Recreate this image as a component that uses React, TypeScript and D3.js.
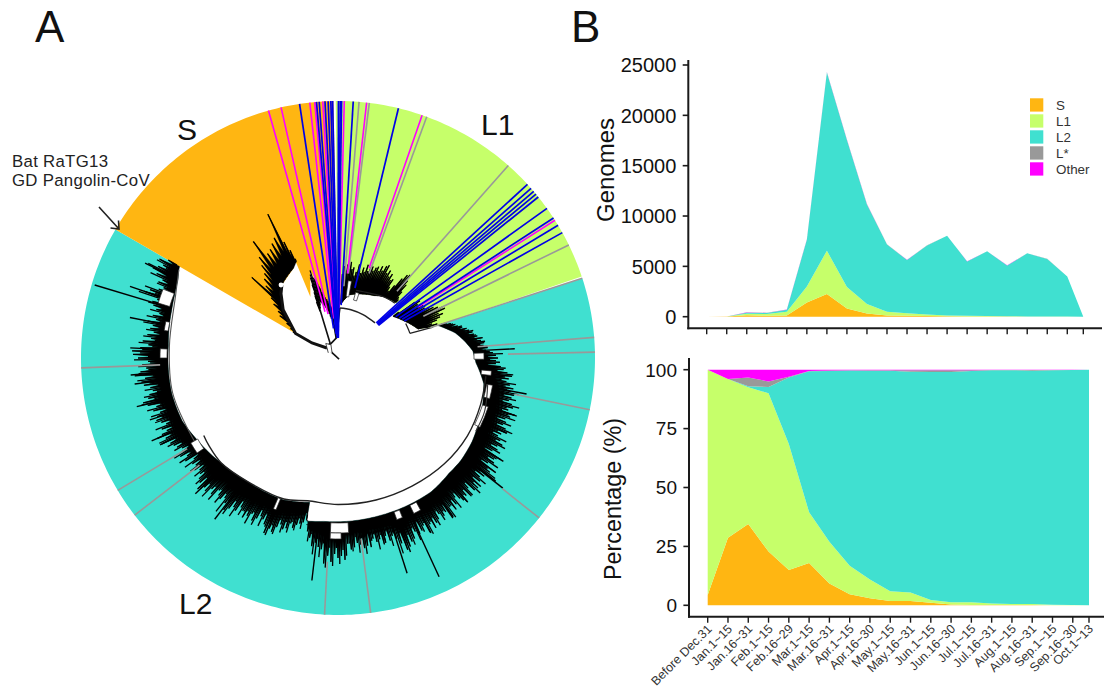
import React from "react";
import * as d3 from "d3";

// ---------- Panel B data ----------
const periods = ["Before Dec.31","Jan.1~15","Jan.16~31","Feb.1~15","Feb.16~29","Mar.1~15","Mar.16~31","Apr.1~15","Apr.16~30","May.1~15","May.16~31","Jun.1~15","Jun.16~30","Jul.1~15","Jul.16~31","Aug.1~15","Aug.16~31","Sep.1~15","Sep.16~30","Oct.1~13"];
const periodPos = [0,1,2,3,4,5,6,7,8,9,10,11,12,13,14,15,16,17,18,18.8];
const lineages = ["S","L1","L2","L*","Other"];
const lineageColors = ["#FFB612","#C6FF6A","#40E0D0","#999999","#FF00FF"];
const countS = [0,9,140,100,110,1400,2250,820,320,130,100,60,40,20,10,10,5,5,0,0];
const countL1 = [3,21,160,170,390,1600,4300,2130,930,350,240,160,90,80,60,30,25,20,10,0];
const countL2 = [0,0,100,100,190,4650,17700,14600,9900,6700,5290,6860,7900,5390,6420,5050,6260,5715,3990,0];
const countLs = [0,0,10,10,10,20,30,20,20,10,10,10,10,5,5,5,5,5,0,0];
const countOther = [2,0,20,20,20,30,20,30,30,10,10,10,10,5,5,5,5,5,0,0];
const pctS = [4.4,28.7,34.5,22.8,15,18,9.3,4.7,3,1.8,1.8,1.1,0.3,0.1,0.1,0.1,0.1,0,0,0];
const pctL1 = [95.6,67.3,58.1,67.2,53.5,21.5,17.7,12.1,7.9,4.2,3.6,1.2,1,1.2,0.7,0.4,0.4,0.2,0.1,0];
const pctL2 = [0,0,0.4,2.7,28.2,59.8,72.5,82.9,88.7,93.6,93.7,96.7,97.7,98.2,99,99.3,99.1,99.6,99.8,100];
const pctLs = [0,0,3.7,2.3,0.3,0.1,0.2,0.1,0.2,0.2,0.7,0.8,0.8,0.3,0.1,0.1,0.3,0.1,0,0];
const pctOther = [0,4,3.3,5,3,0.6,0.3,0.2,0.2,0.2,0.2,0.2,0.2,0.2,0.1,0.1,0.1,0.1,0.1,0];
const countTicks = [0,5000,10000,15000,20000,25000];
const pctTicks = [0,25,50,75,100];

// ---------- Panel A data (degrees clockwise from north, radius in px) ----------
const R = 257;
const sInner = [[-60,49],[-55,60],[-48.7,73],[-41.5,86],[-37.6,92],[-26.5,100],[-23.7,107],[-24.3,67],[-17.7,92],[-14,68],[-10,52],[-6,40],[-2,24],[-0.5,22]];
const l1Inner = [[-0.5,22],[2,50],[3,54],[10,64],[15,66],[20,68],[30,72],[36,76],[47,80],[53,69],[60,75],[65,80],[70,85],[72,100]];
const l2Base = [[72,105],[74,110],[78,120],[82,127],[87,135],[92,138],[96,143],[100,148],[108,152],[115,155],[122,158],[130,160],[136,160],[145,163],[165,163],[185,164],[190.9,166],[191.1,147],[201,152],[216,153],[228,157],[240,163],[248,168],[258,170],[265,170],[274,170],[282,172],[286,173],[291,175],[296,178],[299,182],[300,183]];
const l2TipStart = 72;
const l2Tips = [112,118,122,124,128,132,134,137,138,141,146,144,147,146,150,148,155,158,160,158,158,163,166,170,175,172,170,174,178,176,180,178,176,180,182,178,186,182,178,180,178,182,184,180,178,182,186,182,184,180,192,186,188,183,195,190,200,188,185,188,192,186,190,184,192,188,194,186,182,188,192,186,196,188,190,186,190,192,196,190,198,188,192,194,190,196,198,202,204,196,190,186,190,184,192,186,188,184,192,190,192,188,186,190,192,186,202,198,200,196,204,198,206,192,190,186,190,182,176,165,168,170,172,176,172,178,180,176,180,186,184,190,182,178,176,180,184,178,182,186,180,178,184,182,186,190,184,180,184,182,178,186,182,188,186,192,186,184,180,178,182,178,180,176,184,180,186,182,180,184,186,188,196,190,198,186,190,184,188,192,190,186,192,188,196,200,194,192,188,190,196,198,194,204,198,192,196,190,200,205,206,198,190,196,188,192,186,190,188,194,186,190,184,188,192,194,190,205,200,192,188,195,192,200,206,202,198,204,196];
const l2FineStart = 72.5;
const l2Fine = [114,120,118,128,126,130,138,133,140,138,140,148,143,150,145,152,165,150,152,162,150,168,160,176,168,165,180,170,172,184,170,183,170,188,176,172,180,188,170,186,172,190,176,172,188,178,190,176,188,172,188,180,194,176,186,198,182,178,194,180,184,196,178,192,182,186,190,178,194,182,186,198,180,186,194,182,196,186,188,200,186,194,182,200,186,202,190,198,186,206,184,196,180,190,182,196,180,186,178,198,182,196,180,194,186,198,192,206,190,208,190,210,186,200,182,198,178,186,170,158,175,165,178,170,182,172,184,172,188,180,178,184,172,186,170,188,176,190,178,180,186,172,192,176,194,180,196,176,190,176,192,178,194,180,190,178,190,176,186,172,186,172,188,170,190,176,192,174,188,178,192,182,198,184,192,180,196,180,194,186,196,180,198,184,202,188,198,184,196,182,190,202,186,200,190,200,188,204,190,198,196,186,200,184,196,180,194,182,198,182,196,180,194,184,198,186,210,194,206,186,196,186,206,190,212,194,206,190];
const l2Spikes = [[87,177],[100.8,192],[108,188],[114,185],[122,195],[128.3,210],[132.9,191],[138,193],[144.3,197],[152.1,197],[155.2,241],[159.5,207],[162.2,226],[165.5,191],[186.7,224],[202.4,191.5],[217.4,203],[226.4,197],[244,198],[246,204],[251.8,198],[256.4,207],[262.7,205],[265.3,208],[272.8,208],[281,212],[286.7,254],[289,220],[296.2,215]];
const l2Boxes = [[88,90.5,136,146],[94.8,96.5,144,154],[100,105,151,157],[108,116,152,158],[151.5,154,164,173],[158,160,164,172],[176.5,182.5,165,175],[179,182.5,175,181],[202.2,203.2,152,164],[236,240,162,170],[270,273,171,178],[279,282,172,176],[287,291.5,176,188]];
const sTips = [[-60,52],[-58,56],[-56,62],[-54,72],[-52,76],[-50,84],[-48,90],[-46.9,118],[-45,102],[-43,108],[-41,112],[-39.5,120],[-38,128],[-36,144],[-34,126],[-32,128],[-30,132],[-28,136],[-26,160],[-25,128],[-24,118],[-23.4,108]];
const sBase = [[-60,49],[-48.7,73],[-41.5,86],[-37.6,92],[-26.5,100],[-23.4,105]];
const s2Rows = [[-21,50,60],[-20.4,50,66],[-20,52,70],[-19.4,53,78],[-19,55,85],[-18.4,56,88],[-17.7,60,92],[-17,58,84],[-16.5,58,82],[-16,56,80],[-15.5,56,78],[-15,54,74],[-14.5,55,72],[-13.8,52,68],[-13,50,65],[-12,48,62],[-11,45,60],[-10.2,42,58],[-9.5,40,55]];
const l1aTips = [[3,84],[4,92],[5,88],[6,94],[7,90],[8,97],[9,90],[10,92],[11,84],[12,88],[13,96],[14,90],[15,88],[16,94],[17,90],[18,98],[19,92],[20,96],[21,98],[22,94],[23,98],[24,100],[25,96],[26,102],[27,98],[28,104],[29,106],[30,98],[31,102],[32,96],[33,100],[34,94],[35,96],[36,88],[37,84],[38,92],[39,102],[40,108],[41,110],[42,104],[43,100],[44,92],[45,86],[46,84]];
const l1aBase = [[3,54],[10,64],[15,66],[20,68],[30,72],[36,76],[46,80]];
const l1bTips = [[53,76],[54,95],[55,100],[56,96],[57,98],[58,100],[59,102],[60,100],[61,104],[62,108],[63,112],[64,116],[65,118],[66,110],[67,114],[68,110],[69,106],[70,100],[71,105]];
const l1bBase = [[53,69],[60,75],[65,80],[70,85],[72,100]];
const l1Boxes = [[7.5,10,62,78],[15,18,60,68]];
const backbones = [
  { w: 1.4, c: "#222", pts: [[97,149],[108,150],[121,151],[135,150],[150,148],[165,147],[180,146.5],[192,146],[201,151],[216,153],[228,157],[236,156],[240,155]] },
  { w: 1.1, c: "#333", pts: [[100,152],[110,156],[118,156]] },
  { w: 1.1, c: "#555", pts: [[240,166],[258,169],[274,169],[291,174],[299,182]] },
  { w: 1.5, c: "#222", pts: [[2,50],[15,50],[30,50],[46.6,51]] },
  { w: 1.2, c: "#222", pts: [[15,70],[21,71],[36,76],[46,79]] },
  { w: 1.3, c: "#222", pts: [[63,76],[68,76],[71,76]] },
  { w: 1.3, c: "#222", pts: [[71,76],[72,100]] },
];
const stems = [
  { w: 3, pts: [[-48,15],[-60,30],[-60,49],[-48.7,73],[-41.5,86],[-37.6,92]] },
  { w: 1.6, pts: [[135,1.5],[-48,15]] },
  { w: 1.6, pts: [[-48,15],[-28,17],[-20.5,51]] },
  { w: 1.8, pts: [[-48,15],[-5,20],[-8,52]] },
  { w: 1.8, pts: [[-5,20],[2,50]] },
];
const blueLines = [[-8.6,30],[-4.8,25],[-4.2,24],[-2.9,22],[-2.2,22],[-1.6,20],[-1.2,20],[0.1,20],[0.5,20],[0.8,20],[3.4,53],[13.6,72],[47.5,52],[48.7,52],[49.6,52],[50.4,52],[51.2,52],[54.4,71],[57,73],[58.9,75],[60.8,76]];
const magentaLines = [[-15.7,48],[-12.8,45],[-6.3,40],[-5.2,40],[-3.4,35],[1.4,50],[6.4,85],[19.1,95],[57.6,95]];
const greyLines = [[4.7,72],[7,85],[20.2,90],[41.5,89],[63.9,95],[71.9,97],[85.4,140],[88.7,170],[101.6,180],[128.5,210],[172.7,182],[183,204],[232.3,175],[239,176],[267.8,178]];

const cx = 338, cy = 358;
const rad = (d: number) => (d * Math.PI) / 180;
const polar = d3.lineRadial<number[]>().angle((d) => rad(d[0])).radius((d) => d[1]);
const closed = d3.lineRadial<number[]>().angle((d) => rad(d[0])).radius((d) => d[1]).curve(d3.curveLinearClosed);
const smooth = d3.lineRadial<number[]>().angle((d) => rad(d[0])).radius((d) => d[1]).curve(d3.curveCatmullRom);
const boxArc = d3.arc();
const profile = (rows: number[][]) => d3.scaleLinear().domain(rows.map((r) => r[0])).range(rows.map((r) => r[1]));

function fineInner(rows: number[][]) {
  const scale = profile(rows);
  const pts: number[][] = [];
  rows.forEach((r, i) => {
    pts.push(r);
    const n = rows[i + 1];
    if (n) d3.range(r[0] + 1, n[0], 1).forEach((a) => pts.push([a, scale(a)]));
  });
  return pts;
}
function sector(from: number, to: number, inner: number[][]) {
  const outer = d3.range(from, to + 0.5, 1).map((a) => [Math.min(a, to), R]);
  return closed([...outer, ...[...inner].reverse()]) as string;
}
function massPath(tips: number[][], baseRows: number[][], fill = 0.6) {
  const base = profile(baseRows);
  const top: number[][] = [];
  tips.forEach((t, i) => {
    top.push(t);
    const n = tips[i + 1];
    if (n) {
      const m = (t[0] + n[0]) / 2;
      top.push([m, base(m) + fill * (Math.min(t[1], n[1]) - base(m))]);
    }
  });
  const bottom = fineInner(baseRows).filter((p) => p[0] >= tips[0][0] && p[0] <= tips[tips.length - 1][0]).reverse();
  return closed([...top, ...bottom]) as string;
}

function StackPanel({ series, yMax, ticks, x0, x1, y0, y1, axisX, axisY, top, right, fs, label, labelX, labelY, labelFs, showLabels }: any) {
  const x = d3.scaleLinear().domain([0, 18.8]).range([x0, x1]);
  const y = d3.scaleLinear().domain([0, yMax]).range([y0, y1]);
  const table = periods.map((_, i) => {
    const o: any = { i };
    lineages.forEach((l, k) => (o[l] = series[k][i]));
    return o;
  });
  const layers = d3.stack().keys(lineages)(table);
  const area = d3.area<any>().x((d) => x(periodPos[d.data.i])).y0((d) => y(d[0])).y1((d) => y(d[1]));
  return (
    <g>
      {layers.map((l, k) => (
        <path key={k} d={area(l as any) as string} fill={lineageColors[k]} />
      ))}
      <line x1={axisX} x2={axisX} y1={top} y2={axisY + 1} stroke="#1a1a1a" strokeWidth={2} />
      <line x1={axisX - 1} x2={right} y1={axisY} y2={axisY} stroke="#1a1a1a" strokeWidth={2} />
      {ticks.map((t: number) => (
        <g key={t}>
          <line x1={axisX - 5.6} x2={axisX} y1={y(t)} y2={y(t)} stroke="#1a1a1a" strokeWidth={1.6} />
          <text x={axisX - 12} y={y(t)} dy="0.36em" textAnchor="end" fontSize={fs} fill="#111">{t}</text>
        </g>
      ))}
      {periodPos.map((p, i) => (
        <g key={i}>
          <line x1={x(p)} x2={x(p)} y1={axisY} y2={axisY + 6} stroke="#1a1a1a" strokeWidth={1.4} />
          {showLabels && (
            <text transform={`translate(${x(p) + 5},${axisY + 13}) rotate(-45)`} textAnchor="end" fontSize={12.5} fill="#333">{periods[i]}</text>
          )}
        </g>
      ))}
      <text transform={`translate(${labelX},${labelY}) rotate(-90)`} textAnchor="middle" fontSize={labelFs} fill="#111">{label}</text>
    </g>
  );
}

export default function App() {
  const l2Rows = l2Tips.map((t, i) => [l2TipStart + i, t]);
  const l2FineRows = l2Fine.map((t, i) => [l2FineStart + i, t]);
  const l2B = profile(l2Base);
  const sB = profile(sBase);
  const l1aB = profile(l1aBase);
  const l1bB = profile(l1bBase);
  const tipLines = [
    ...l2Rows.map((r) => [r[0], l2B(r[0]) + 3, r[1]]),
    ...l2FineRows.map((r) => [r[0], l2B(r[0]) + 3, r[1]]),
    ...sTips.map((r) => [r[0], sB(r[0]), r[1]]),
    ...l1aTips.map((r) => [r[0], l1aB(r[0]), r[1]]),
    ...l1bTips.map((r) => [r[0], l1bB(r[0]), r[1]]),
    ...s2Rows,
  ];
  return (
    <svg width={1104} height={690} style={{ position: "absolute", left: 0, top: 0, fontFamily: "'Liberation Sans', Arial, sans-serif" }}>
      <rect width={1104} height={690} fill="#fff" />
      <text x={35} y={42} fontSize={44} fill="#111">A</text>
      <text x={571} y={42} fontSize={44} fill="#111">B</text>

      <g transform={`translate(${cx},${cy})`}>
        <path d={sector(72, 300, fineInner(l2Base))} fill={lineageColors[2]} />
        <path d={sector(-60, -0.5, sInner)} fill={lineageColors[0]} />
        <path d={sector(-0.5, 72, fineInner(l1Inner))} fill={lineageColors[1]} />

        <path d={massPath(l2Rows, l2Base, 0.5)} fill="#000" stroke="#000" strokeWidth={0.4} />
        <path d={massPath(sTips, sBase, 0.55)} fill="#000" stroke="#000" strokeWidth={0.4} />
        <path d={massPath(l1aTips, l1aBase, 0.6)} fill="#000" stroke="#000" strokeWidth={0.4} />
        <path d={massPath(l1bTips, l1bBase, 0.6)} fill="#000" stroke="#000" strokeWidth={0.4} />
        {tipLines.map((r, i) => (
          <path key={i} d={polar([[r[0], r[1]], [r[0], r[2]]]) as string} stroke="#000" strokeWidth={1.3} fill="none" />
        ))}
        {l2Spikes.map((s, i) => (
          <path key={i} d={polar([[s[0], l2B(s[0]) + 10], [s[0], s[1]]]) as string} stroke="#000" strokeWidth={1.4} fill="none" />
        ))}
        {[...l2Boxes, ...l1Boxes].map((b, i) => (
          <path key={i} d={boxArc({ startAngle: rad(b[0]), endAngle: rad(b[1]), innerRadius: b[2], outerRadius: b[3] }) as string} fill="#fff" stroke="#222" strokeWidth={0.7} />
        ))}
        {backbones.map((b, i) => (
          <path key={i} d={smooth(b.pts) as string} fill="none" stroke={b.c} strokeWidth={b.w} />
        ))}
        {stems.map((b, i) => (
          <path key={i} d={polar(b.pts) as string} fill="none" stroke="#111" strokeWidth={b.w} />
        ))}
        <circle cx={-57} cy={-73} r={2.4} fill="#fff" />
        <path d={polar([[-62, 11], [-40, 19], [-28, 15], [-48, 8]]) as string} fill="#fff" stroke="#222" strokeWidth={0.8} />

        {greyLines.map((l, i) => (
          <path key={i} d={polar([[l[0], l[1]], [l[0], R]]) as string} stroke="#999" strokeWidth={1.6} fill="none" />
        ))}
        {magentaLines.map((l, i) => (
          <path key={i} d={polar([[l[0], l[1]], [l[0], R]]) as string} stroke="#FF00FF" strokeWidth={1.6} fill="none" />
        ))}
        {blueLines.map((l, i) => (
          <path key={i} d={polar([[l[0], l[1]], [l[0], R]]) as string} stroke="#0000E6" strokeWidth={1.7} fill="none" />
        ))}
      </g>

      <text x={177} y={140} fontSize={30} fill="#111">S</text>
      <text x={481} y={135} fontSize={30} fill="#111">L1</text>
      <text x={179} y={614} fontSize={30} fill="#111">L2</text>
      <text x={12} y={166.5} fontSize={16.8} letterSpacing={0.3} fill="#222">Bat RaTG13</text>
      <text x={12} y={186} fontSize={16.8} letterSpacing={0.3} fill="#222">GD Pangolin-CoV</text>
      <path d="M99,207 L119,229 M118.5,220.5 L119,229 L110.5,228" fill="none" stroke="#222" strokeWidth={1.6} />

      <StackPanel series={[countS, countL1, countL2, countLs, countOther]} yMax={25000} ticks={countTicks} x0={706.7} x1={1083.3} y0={316.7} y1={65} axisX={688.3} axisY={328.3} top={60} right={1102} fs={20} label="Genomes" labelX={614} labelY={170} labelFs={24} showLabels={false} />
      <StackPanel series={[pctS, pctL1, pctL2, pctLs, pctOther]} yMax={100} ticks={pctTicks} x0={707.7} x1={1089} y0={605.3} y1={369.7} axisX={689} axisY={616.7} top={358} right={1104} fs={19} label="Percentage (%)" labelX={621} labelY={499} labelFs={23.3} showLabels={true} />

      {lineages.map((l, i) => (
        <g key={l}>
          <rect x={1030} y={98.3 + i * 16} width={13.3} height={13.3} fill={lineageColors[i]} />
          <text x={1056} y={105 + i * 16} dy="0.36em" fontSize={13.4} fill="#333">{l}</text>
        </g>
      ))}
    </svg>
  );
}
